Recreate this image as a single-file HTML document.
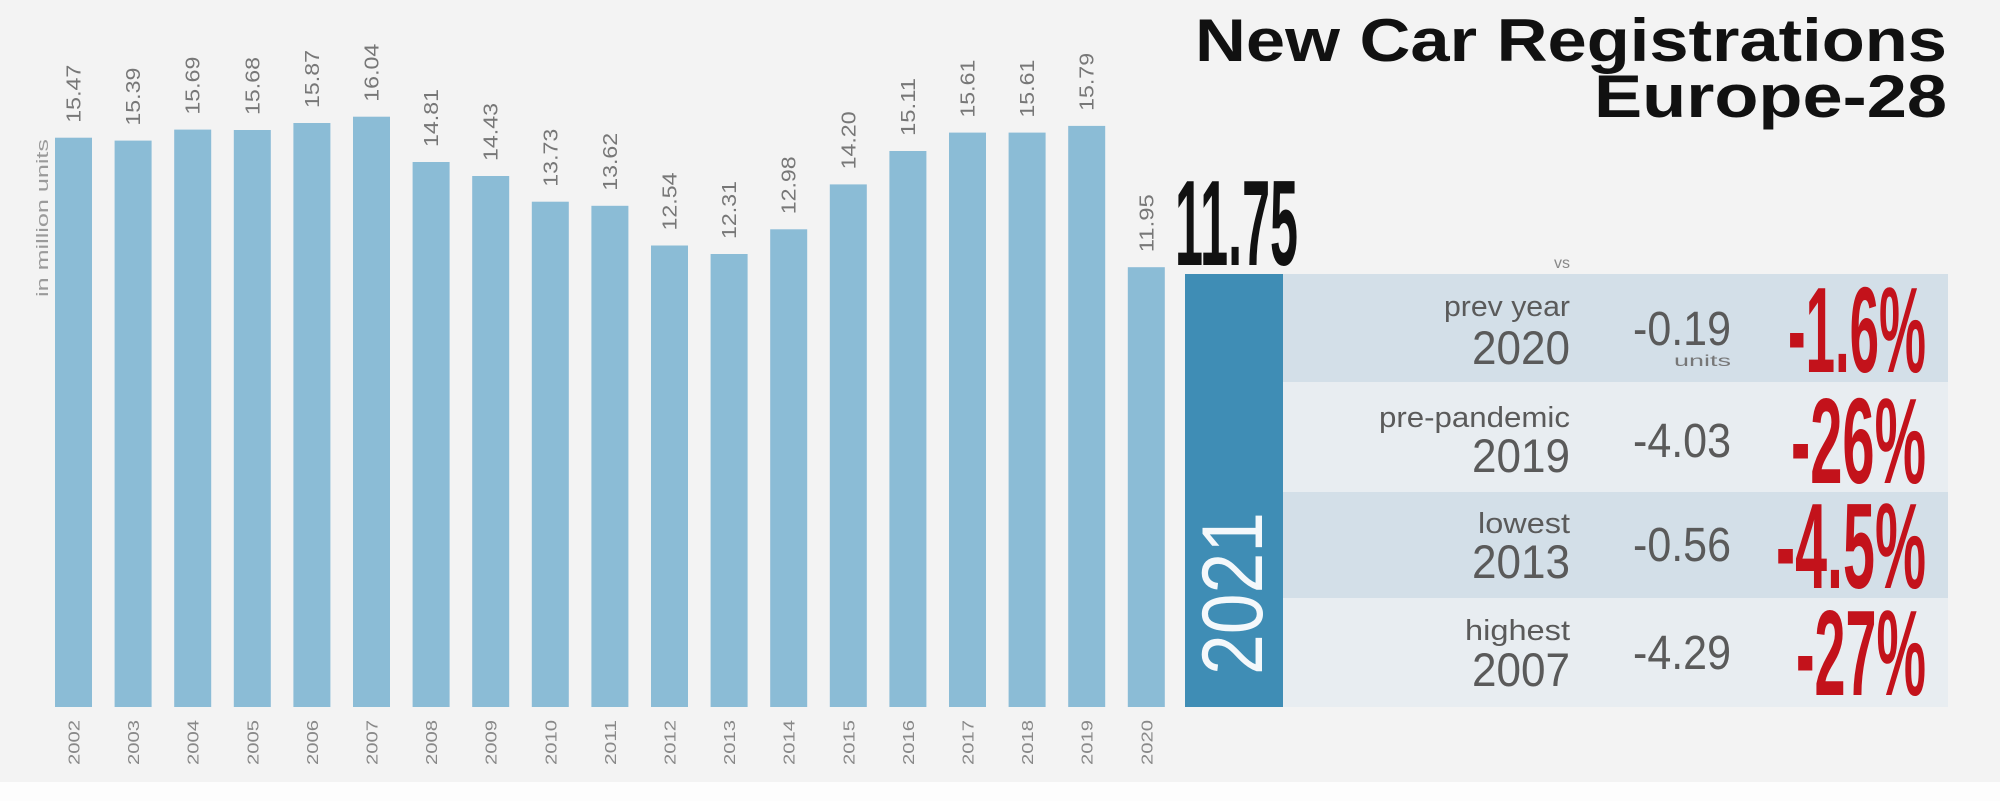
<!DOCTYPE html>
<html><head><meta charset="utf-8"><style>
html,body{margin:0;padding:0;background:#f3f3f3;}
svg{display:block;}
</style></head><body>
<svg width="2000" height="801" viewBox="0 0 2000 801" xmlns="http://www.w3.org/2000/svg" font-family="Liberation Sans, sans-serif">
<rect x="0" y="0" width="2000" height="801" fill="#f3f3f3"/>
<rect x="0" y="782" width="2000" height="19" fill="#fdfdfd"/>
<text transform="translate(48,297) rotate(-90)" font-size="17" fill="#9a9a9a" textLength="158" lengthAdjust="spacingAndGlyphs">in million units</text>
<g fill="#8bbcd6">
<rect x="55" y="137.7" width="37" height="569.3"/>
<rect x="114.6" y="140.6" width="37" height="566.4"/>
<rect x="174.2" y="129.6" width="37" height="577.4"/>
<rect x="233.8" y="130" width="37" height="577"/>
<rect x="293.4" y="123" width="37" height="584"/>
<rect x="353" y="116.7" width="37" height="590.3"/>
<rect x="412.6" y="162" width="37" height="545"/>
<rect x="472.2" y="176" width="37" height="531"/>
<rect x="531.8" y="201.7" width="37" height="505.3"/>
<rect x="591.4" y="205.8" width="37" height="501.2"/>
<rect x="651" y="245.5" width="37" height="461.5"/>
<rect x="710.6" y="254" width="37" height="453"/>
<rect x="770.2" y="229.3" width="37" height="477.7"/>
<rect x="829.8" y="184.4" width="37" height="522.6"/>
<rect x="889.4" y="151" width="37" height="556"/>
<rect x="949" y="132.6" width="37" height="574.4"/>
<rect x="1008.6" y="132.6" width="37" height="574.4"/>
<rect x="1068.2" y="125.9" width="37" height="581.1"/>
<rect x="1127.8" y="267.2" width="37" height="439.8"/>
</g>
<g font-size="20" fill="#777">
<text transform="translate(80.5,122.7) rotate(-90)" textLength="58" lengthAdjust="spacingAndGlyphs">15.47</text>
<text transform="translate(140.1,125.6) rotate(-90)" textLength="58" lengthAdjust="spacingAndGlyphs">15.39</text>
<text transform="translate(199.7,114.6) rotate(-90)" textLength="58" lengthAdjust="spacingAndGlyphs">15.69</text>
<text transform="translate(259.3,115) rotate(-90)" textLength="58" lengthAdjust="spacingAndGlyphs">15.68</text>
<text transform="translate(318.9,108) rotate(-90)" textLength="58" lengthAdjust="spacingAndGlyphs">15.87</text>
<text transform="translate(378.5,101.7) rotate(-90)" textLength="58" lengthAdjust="spacingAndGlyphs">16.04</text>
<text transform="translate(438.1,147) rotate(-90)" textLength="58" lengthAdjust="spacingAndGlyphs">14.81</text>
<text transform="translate(497.7,161) rotate(-90)" textLength="58" lengthAdjust="spacingAndGlyphs">14.43</text>
<text transform="translate(557.3,186.7) rotate(-90)" textLength="58" lengthAdjust="spacingAndGlyphs">13.73</text>
<text transform="translate(616.9,190.8) rotate(-90)" textLength="58" lengthAdjust="spacingAndGlyphs">13.62</text>
<text transform="translate(676.5,230.5) rotate(-90)" textLength="58" lengthAdjust="spacingAndGlyphs">12.54</text>
<text transform="translate(736.1,239) rotate(-90)" textLength="58" lengthAdjust="spacingAndGlyphs">12.31</text>
<text transform="translate(795.7,214.3) rotate(-90)" textLength="58" lengthAdjust="spacingAndGlyphs">12.98</text>
<text transform="translate(855.3,169.4) rotate(-90)" textLength="58" lengthAdjust="spacingAndGlyphs">14.20</text>
<text transform="translate(914.9,136) rotate(-90)" textLength="58" lengthAdjust="spacingAndGlyphs">15.11</text>
<text transform="translate(974.5,117.6) rotate(-90)" textLength="58" lengthAdjust="spacingAndGlyphs">15.61</text>
<text transform="translate(1034.1,117.6) rotate(-90)" textLength="58" lengthAdjust="spacingAndGlyphs">15.61</text>
<text transform="translate(1093.7,110.9) rotate(-90)" textLength="58" lengthAdjust="spacingAndGlyphs">15.79</text>
<text transform="translate(1153.3,252.2) rotate(-90)" textLength="58" lengthAdjust="spacingAndGlyphs">11.95</text>
</g>
<g font-size="16" fill="#888">
<text transform="translate(79.5,765) rotate(-90)" textLength="45" lengthAdjust="spacingAndGlyphs">2002</text>
<text transform="translate(139.1,765) rotate(-90)" textLength="45" lengthAdjust="spacingAndGlyphs">2003</text>
<text transform="translate(198.7,765) rotate(-90)" textLength="45" lengthAdjust="spacingAndGlyphs">2004</text>
<text transform="translate(258.3,765) rotate(-90)" textLength="45" lengthAdjust="spacingAndGlyphs">2005</text>
<text transform="translate(317.9,765) rotate(-90)" textLength="45" lengthAdjust="spacingAndGlyphs">2006</text>
<text transform="translate(377.5,765) rotate(-90)" textLength="45" lengthAdjust="spacingAndGlyphs">2007</text>
<text transform="translate(437.1,765) rotate(-90)" textLength="45" lengthAdjust="spacingAndGlyphs">2008</text>
<text transform="translate(496.7,765) rotate(-90)" textLength="45" lengthAdjust="spacingAndGlyphs">2009</text>
<text transform="translate(556.3,765) rotate(-90)" textLength="45" lengthAdjust="spacingAndGlyphs">2010</text>
<text transform="translate(615.9,765) rotate(-90)" textLength="45" lengthAdjust="spacingAndGlyphs">2011</text>
<text transform="translate(675.5,765) rotate(-90)" textLength="45" lengthAdjust="spacingAndGlyphs">2012</text>
<text transform="translate(735.1,765) rotate(-90)" textLength="45" lengthAdjust="spacingAndGlyphs">2013</text>
<text transform="translate(794.7,765) rotate(-90)" textLength="45" lengthAdjust="spacingAndGlyphs">2014</text>
<text transform="translate(854.3,765) rotate(-90)" textLength="45" lengthAdjust="spacingAndGlyphs">2015</text>
<text transform="translate(913.9,765) rotate(-90)" textLength="45" lengthAdjust="spacingAndGlyphs">2016</text>
<text transform="translate(973.5,765) rotate(-90)" textLength="45" lengthAdjust="spacingAndGlyphs">2017</text>
<text transform="translate(1033.1,765) rotate(-90)" textLength="45" lengthAdjust="spacingAndGlyphs">2018</text>
<text transform="translate(1092.7,765) rotate(-90)" textLength="45" lengthAdjust="spacingAndGlyphs">2019</text>
<text transform="translate(1152.3,765) rotate(-90)" textLength="45" lengthAdjust="spacingAndGlyphs">2020</text>
</g>
<!-- right panel -->
<rect x="1185" y="274" width="98" height="433" fill="#3f8db5"/>
<rect x="1283" y="274" width="665" height="108" fill="#d3dfe8"/>
<rect x="1283" y="382" width="665" height="110" fill="#e8edf1"/>
<rect x="1283" y="492" width="665" height="106" fill="#d3dfe8"/>
<rect x="1283" y="598" width="665" height="109" fill="#e8edf1"/>
<text x="1175" y="265" font-size="122" font-weight="bold" fill="#111" textLength="123" lengthAdjust="spacingAndGlyphs">11.75</text>
<text transform="translate(1262,675) rotate(-90)" font-size="86" fill="#f4f8fb" textLength="163" lengthAdjust="spacingAndGlyphs">2021</text>
<text x="1947" y="61" font-size="60" font-weight="bold" fill="#111" text-anchor="end" textLength="752" lengthAdjust="spacingAndGlyphs">New Car Registrations</text>
<text x="1947" y="117" font-size="60" font-weight="bold" fill="#111" text-anchor="end" textLength="353" lengthAdjust="spacingAndGlyphs">Europe-28</text>
<text x="1570" y="268" font-size="16" fill="#888" text-anchor="end">vs</text>
<g fill="#5a5a5a" text-anchor="end">
<text x="1570" y="316" font-size="29" textLength="126" lengthAdjust="spacingAndGlyphs">prev year</text>
<text x="1570" y="364" font-size="47" textLength="98" lengthAdjust="spacingAndGlyphs">2020</text>
<text x="1570" y="427" font-size="29" textLength="191" lengthAdjust="spacingAndGlyphs">pre-pandemic</text>
<text x="1570" y="472" font-size="47" textLength="98" lengthAdjust="spacingAndGlyphs">2019</text>
<text x="1570" y="533" font-size="29" textLength="92" lengthAdjust="spacingAndGlyphs">lowest</text>
<text x="1570" y="578" font-size="47" textLength="98" lengthAdjust="spacingAndGlyphs">2013</text>
<text x="1570" y="640" font-size="29" textLength="105" lengthAdjust="spacingAndGlyphs">highest</text>
<text x="1570" y="686" font-size="47" textLength="98" lengthAdjust="spacingAndGlyphs">2007</text>
<text x="1731" y="345" font-size="48" textLength="98" lengthAdjust="spacingAndGlyphs">-0.19</text>
<text x="1731" y="366" font-size="16" fill="#777" textLength="57" lengthAdjust="spacingAndGlyphs">units</text>
<text x="1731" y="457" font-size="48" textLength="98" lengthAdjust="spacingAndGlyphs">-4.03</text>
<text x="1731" y="561" font-size="48" textLength="98" lengthAdjust="spacingAndGlyphs">-0.56</text>
<text x="1731" y="669" font-size="48" textLength="98" lengthAdjust="spacingAndGlyphs">-4.29</text>
</g>
<g fill="#c3121b" font-weight="bold" text-anchor="end" font-size="122">
<text x="1926" y="372" textLength="138" lengthAdjust="spacingAndGlyphs">-1.6%</text>
<text x="1926" y="483" textLength="135" lengthAdjust="spacingAndGlyphs">-26%</text>
<text x="1926" y="588" textLength="150" lengthAdjust="spacingAndGlyphs">-4.5%</text>
<text x="1926" y="695" textLength="130" lengthAdjust="spacingAndGlyphs">-27%</text>
</g>
</svg>
</body></html>
